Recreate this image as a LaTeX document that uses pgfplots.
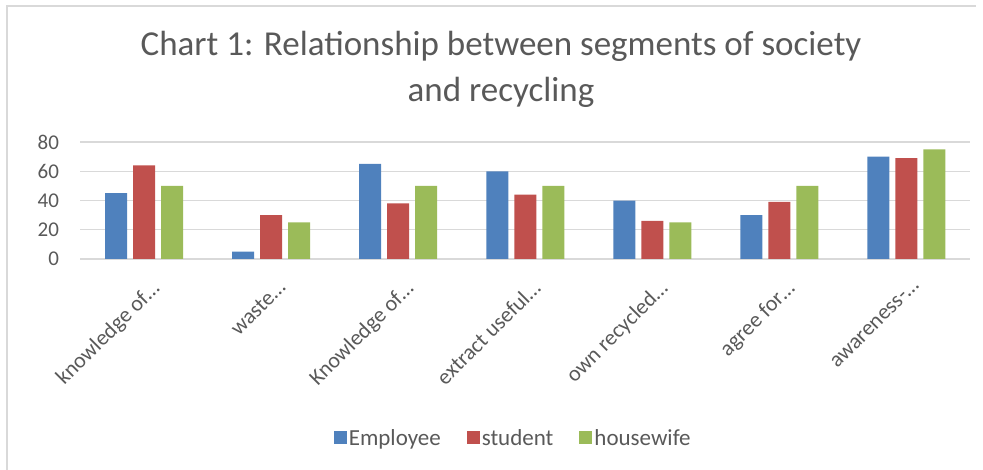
\documentclass[border=0pt]{standalone}
\usepackage{fontspec}
\setmainfont{Carlito}
\usepackage{pgfplots}
\pgfplotsset{compat=1.18}
\definecolor{cEmp}{HTML}{4F81BD}
\definecolor{cStu}{HTML}{C0504D}
\definecolor{cHou}{HTML}{9BBB59}
\definecolor{txt}{HTML}{595959}
\definecolor{grd}{HTML}{D9D9D9}
\begin{document}
\begin{tikzpicture}
\begin{axis}[
  scale only axis, width=889.5pt, height=117pt,
  clip=false,
  ybar=6pt, bar width=22pt,
  xmin=-0.5, xmax=6.5, ymin=0, ymax=80,
  ytick={0,20,40,60,80},
  xtick={0,...,6},
  xticklabels={knowledge of\dots, waste\dots, Knowledge of\dots, extract useful\dots, own recycled\dots, agree for\dots, awareness-\dots},
  axis line style={draw=none},
  axis x line*=bottom,
  major tick length=0pt,
  ymajorgrids, grid style={grd, line width=1.3pt},
  /pgf/number format/assume math mode=true,
  tick label style={txt, font=\fontsize{21}{24}\selectfont},
  yticklabel style={anchor=east, xshift=-18pt},
  xticklabel style={rotate=45, anchor=north east, xshift=-6.5pt, yshift=-14.6pt, font=\fontsize{22}{24}\selectfont},
  legend columns=3,
  legend style={at={(0.4865,-1.53)}, anchor=center, draw=none, fill=none,
    font=\fontsize{23}{24}\selectfont, text=txt,
    /tikz/every even column/.append style={column sep=24pt}},
  legend image code/.code={\fill[#1] (0pt,-6.5pt) rectangle (13pt,6.5pt);},
  extra y ticks={0}, extra y tick labels={},
  extra y tick style={grid style={grd, line width=1.6pt}},
]
\addplot[fill=cEmp, draw=none] coordinates {(0,45) (1,5) (2,65) (3,60) (4,40) (5,30) (6,70)};
\addplot[fill=cStu, draw=none] coordinates {(0,64) (1,30) (2,38) (3,44) (4,26) (5,39) (6,69)};
\addplot[fill=cHou, draw=none] coordinates {(0,50) (1,25) (2,50) (3,50) (4,25) (5,50) (6,75)};
\legend{Employee, student, housewife}
\coordinate (O) at (rel axis cs:0,0);
\end{axis}
% page frame and title placed relative to the plot area's lower left corner
\draw[grd, line width=1.2pt] ([shift={(-73.5pt,-211pt)}]O) -- ([shift={(-73.5pt,253pt)}]O) -- ([shift={(895.5pt,253pt)}]O);
\node[txt, align=center, font=\fontsize{35}{46}\selectfont] at ([shift={(420.5pt,190pt)}]O)
  {Chart 1: Relationship between segments of society\\and recycling};
\pgfresetboundingbox
\path[use as bounding box] ([shift={(-80.5pt,-211pt)}]O) rectangle ([shift={(902.5pt,259pt)}]O);
\end{tikzpicture}
\end{document}
